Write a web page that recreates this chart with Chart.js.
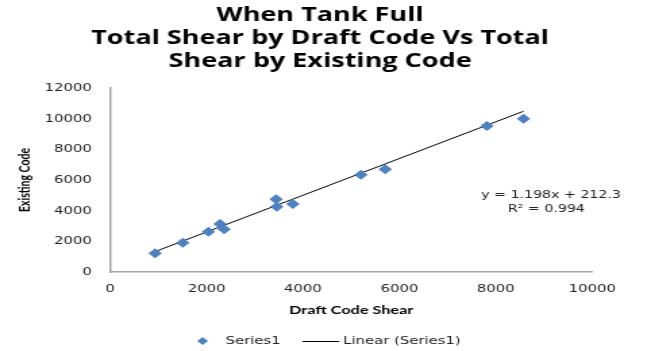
<!DOCTYPE html>
<html>
<head>
<meta charset="utf-8">
<script src="https://cdn.jsdelivr.net/npm/chart.js@4.4.1/dist/chart.umd.min.js"></script>
<style>
  html, body { margin: 0; padding: 0; background: #fff; overflow: hidden; }
  #wrap { width: 479px; height: 351px; transform: scaleX(1.3507); transform-origin: 0 0; }
  #c { display: block; }
</style>
</head>
<body>
<div id="wrap"><canvas id="c" width="479" height="351"></canvas></div>
<script>
// Total shear per case: draft code (x) against existing code (y)
const draftShear    = [934, 1508, 2040, 2282, 2365, 3444, 3458, 3790, 5201, 5705, 7815, 8575];
const existingShear = [1220, 1911, 2630, 3131, 2783, 4742, 4260, 4436, 6347, 6700, 9524, 10000];

// Linear trend fitted to the series
const trendSlope = 1.198;
const trendIntercept = 212.3;
const trendR2 = 0.994;

const xTicks = [0, 2000, 4000, 6000, 8000, 10000];
const yTicks = [0, 2000, 4000, 6000, 8000, 10000, 12000];

const titleLines = ['When Tank Full', 'Total Shear by Draft Code Vs Total', 'Shear by Existing Code'];
const seriesName = 'Series1';
const trendName = 'Linear (Series1)';

const points = draftShear.map((x, i) => ({ x: x, y: existingShear[i] }));
const xMin = Math.min(...draftShear), xMax = Math.max(...draftShear);
const trendLine = [xMin, xMax].map(x => ({ x: x, y: trendSlope * x + trendIntercept }));

const pointColor = '#4f81bd';
const textColor = '#222';
const tickFont = { family: 'DejaVu Sans', size: 11 };

// Centre the title block on the whole canvas rather than between the layout paddings
const centreTitle = {
  id: 'centreTitle',
  afterLayout(chart) {
    const t = chart.titleBlock;
    if (t) { t.left = 0; t.right = chart.width - 5; t.width = t.right - t.left; }
  }
};

// Equation and R² text beside the trend line
const equationLabel = {
  id: 'equationLabel',
  afterDatasetsDraw(chart) {
    const { ctx } = chart;
    ctx.save();
    ctx.fillStyle = textColor;
    ctx.font = '10.5px "DejaVu Sans"';
    ctx.textAlign = 'center';
    ctx.textBaseline = 'middle';
    ctx.fillText('y = ' + trendSlope.toFixed(3) + 'x + ' + trendIntercept.toFixed(1), 408, 195);
    ctx.fillText('R\u00B2 = ' + trendR2.toFixed(3), 404.5, 209);
    ctx.restore();
  }
};

// Legend row along the bottom: diamond marker for the series, a short line for the trend
const bottomLegend = {
  id: 'bottomLegend',
  afterDraw(chart) {
    const { ctx } = chart;
    const y = 341;
    ctx.save();
    ctx.fillStyle = pointColor;
    ctx.beginPath();
    ctx.moveTo(150, y - 4);
    ctx.lineTo(154, y);
    ctx.lineTo(150, y + 4);
    ctx.lineTo(146, y);
    ctx.closePath();
    ctx.fill();

    ctx.strokeStyle = '#000';
    ctx.lineWidth = 1;
    ctx.beginPath();
    ctx.moveTo(224, y + 0.5);
    ctx.lineTo(251, y + 0.5);
    ctx.stroke();

    ctx.fillStyle = textColor;
    ctx.font = '11px "DejaVu Sans"';
    ctx.textAlign = 'left';
    ctx.textBaseline = 'middle';
    ctx.fillText(seriesName, 167, y);
    ctx.fillText(trendName, 254, y);
    ctx.restore();
  }
};

new Chart(document.getElementById('c'), {
  type: 'scatter',
  data: {
    datasets: [
      {
        label: seriesName,
        data: points,
        pointStyle: 'rectRot',
        pointRadius: 5,
        pointHoverRadius: 5,
        backgroundColor: pointColor,
        borderColor: pointColor,
        borderWidth: 0
      },
      {
        type: 'line',
        label: trendName,
        data: trendLine,
        borderColor: '#000',
        borderWidth: 1,
        pointRadius: 0,
        fill: false
      }
    ]
  },
  options: {
    responsive: false,
    animation: false,
    devicePixelRatio: 1,
    layout: { padding: { left: 4, right: 40.5, top: 0, bottom: 29 } },
    plugins: {
      title: {
        display: true,
        text: titleLines,
        color: '#000',
        font: { family: 'Open Sans', size: 20, weight: 'bold', lineHeight: 1.15 },
        padding: { top: 3.5, bottom: 15.5 }
      },
      legend: { display: false },
      tooltip: { enabled: false }
    },
    scales: {
      x: {
        type: 'linear',
        min: 0,
        max: 10000,
        afterBuildTicks(s) { s.ticks = xTicks.map(v => ({ value: v })); },
        afterFit(s) { s.height = 50; },
        grid: { display: false, drawTicks: false },
        border: { display: true, color: '#a6a6a6', width: 1.5 },
        ticks: { font: tickFont, color: textColor, padding: 11, maxRotation: 0, callback: v => String(v) },
        title: { display: true, text: 'Draft Code Shear', color: '#000',
                 font: { family: 'Lato', size: 12, weight: 'bold' }, padding: { top: 2, bottom: 4.8 } }
      },
      y: {
        type: 'linear',
        min: 0,
        max: 12000,
        afterBuildTicks(s) { s.ticks = yTicks.map(v => ({ value: v })); },
        afterFit(s) { s.width = 77.5; },
        grid: { display: false, drawTicks: false },
        border: { display: true, color: '#a6a6a6', width: 1.5 },
        ticks: { font: tickFont, color: textColor, padding: 13.5, callback: v => String(v) },
        title: { display: true, text: 'Existing Code', color: '#000',
                 font: { family: 'Lato', size: 10.5, weight: 'bold' }, padding: { top: 8.2, bottom: 0 } }
      }
    }
  },
  plugins: [centreTitle, equationLabel, bottomLegend]
});
</script>
</body>
</html>
